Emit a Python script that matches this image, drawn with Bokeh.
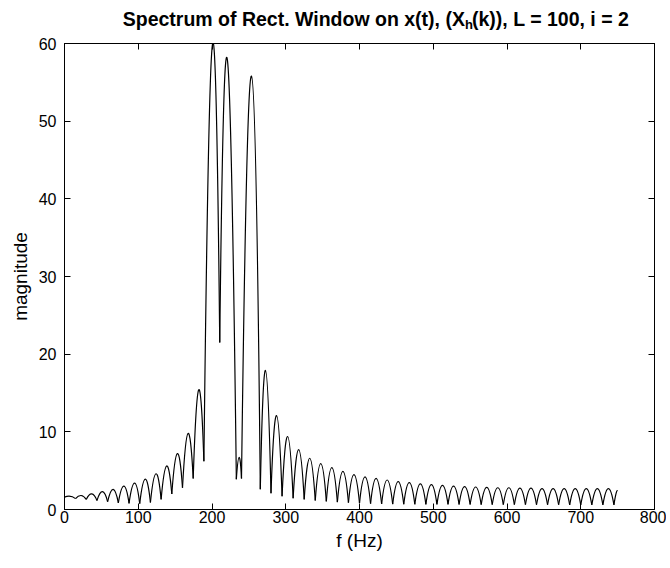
import numpy as np
from bokeh.plotting import figure
from bokeh.layouts import column
from bokeh.models import Range1d, LinearAxis, FixedTicker, CustomLabelingPolicy
from bokeh.core.properties import value
from bokeh.embed import file_html
from bokeh.resources import INLINE

# ---- data ----
# local minima (plus start and end points) of the magnitude curve
node_f = [0, 15, 29.5, 44, 58.5, 73, 87.5, 102, 116.5, 131, 145.5, 160, 174.5, 189,
          210.5, 233, 240, 265.5,
          280, 295, 310, 325, 340, 355, 370, 385, 400, 415, 430, 445, 460, 475, 490,
          505, 520, 535, 550, 565, 580, 595, 610, 625, 640, 655, 670, 685, 700, 715,
          730, 745, 750]
node_m = [1.6, 1.4, 1.3, 1.15, 1.0, 0.85, 0.78, 0.75, 0.9, 1.3, 2.0, 2.8, 4.0, 6.2,
          21.5, 3.9, 4.0, 2.6,
          2.1, 1.7, 1.45, 1.3, 1.15, 1.05, 0.95, 0.88, 0.82, 0.76, 0.72, 0.7, 0.68, 0.67, 0.66,
          0.65, 0.65, 0.64, 0.64, 0.63, 0.63, 0.62, 0.62, 0.62, 0.61, 0.61, 0.61, 0.6, 0.6, 0.6,
          0.6, 0.6, 2.4]
# local maxima (one lobe between each pair of consecutive nodes)
peak_f = [8, 22.5, 37, 51.5, 66, 80.5, 95, 109.5, 124, 138.5, 153, 167.5, 182,
          200.5, 221, 236.8, 253.5, 272.5,
          287.5, 302.5, 317.5, 332.5, 347.5, 362.5, 377.5, 392.5, 407.5, 422.5, 437.5,
          452.5, 467.5, 482.5, 497.5, 512.5, 527.5, 542.5, 557.5, 572.5, 587.5, 602.5,
          617.5, 632.5, 647.5, 662.5, 677.5, 692.5, 707.5, 722.5, 737.5, 748]
peak_m = [1.7, 1.8, 2.0, 2.3, 2.6, 3.0, 3.4, 3.9, 4.6, 5.6, 7.2, 9.8, 15.4,
          59.8, 57.8, 6.7, 55.8, 17.9,
          12.1, 9.4, 7.7, 6.6, 5.9, 5.4, 4.9, 4.5, 4.2, 4.0, 3.8,
          3.6, 3.45, 3.3, 3.2, 3.1, 3.0, 2.95, 2.9, 2.85, 2.8, 2.8,
          2.75, 2.75, 2.7, 2.7, 2.7, 2.7, 2.7, 2.7, 2.7, 2.1]

x_ticks = [0, 100, 200, 300, 400, 500, 600, 700, 800]
y_ticks = [0, 10, 20, 30, 40, 50, 60]

title_main = "Spectrum of Rect. Window on x(t), (X"
title_sub = "h"
title_rest = "(k)), L = 100, i = 2"
x_label = "f (Hz)"
y_label = "magnitude"

FONT = "Liberation Sans"
TOTAL_W = 666
TITLE_H = 36

# ---- title strip (pixel-sized ranges so text sits where the reference has it) ----
pt = figure(width=TOTAL_W, height=TITLE_H, x_range=Range1d(0, TOTAL_W), y_range=Range1d(0, TITLE_H),
            output_backend="svg", toolbar_location=None, x_axis_type=None, y_axis_type=None,
            min_border=0, outline_line_color=None)
pt.grid.visible = False
pt.background_fill_color = "white"
pt.border_fill_color = "white"
xh = 452
base = 18
tstyle = dict(text_font=value(FONT), text_font_style="bold", text_color="black",
              text_baseline="alphabetic")
pt.text(x=[xh], y=[base], text=[title_main], text_align="right", text_font_size="19.5px", **tstyle)
pt.text(x=[xh], y=[base - 6], text=[title_sub], text_align="left", text_font_size="13px", **tstyle)
pt.text(x=[xh + 8], y=[base], text=[title_rest], text_align="left", text_font_size="19.5px", **tstyle)

# ---- main figure ----
p = figure(frame_width=590, frame_height=466, x_range=Range1d(0, 800), y_range=Range1d(0, 60),
           output_backend="svg", toolbar_location=None,
           min_border_left=64, min_border_right=TOTAL_W - 64 - 590, min_border_top=43 - TITLE_H,
           min_border_bottom=56)
p.grid.visible = False
p.outline_line_color = "black"
p.outline_line_width = 1
p.background_fill_color = "white"
p.border_fill_color = "white"

# lobes drawn as quadratic curves from minimum to minimum passing through the maximum
x0 = np.array(node_f[:-1]); x1 = np.array(node_f[1:])
y0 = np.array(node_m[:-1]); y1 = np.array(node_m[1:])
pf = np.array(peak_f); pm = np.array(peak_m)
cx = 2 * pf - (x0 + x1) / 2
cy = 2 * pm - (y0 + y1) / 2
p.quadratic(x0=x0, y0=y0, x1=x1, y1=y1, cx=cx, cy=cy, line_color="black", line_width=1.2)

def style_axis(ax, labels=True):
    ax.axis_line_color = "black"
    ax.major_tick_line_color = "black"
    ax.major_tick_in = 6
    ax.major_tick_out = 0
    ax.minor_tick_in = 0
    ax.minor_tick_out = 0
    ax.major_label_text_font = FONT
    ax.major_label_text_color = "black"
    ax.major_label_text_font_size = "16px"
    if not labels:
        ax.major_label_policy = CustomLabelingPolicy(code="return new Set()")
        ax.major_label_standoff = 0
        ax.major_label_text_font_size = "1px"
        ax.axis_label_standoff = 0

p.xaxis.ticker = FixedTicker(ticks=x_ticks)
p.yaxis.ticker = FixedTicker(ticks=y_ticks)
style_axis(p.xaxis[0]); style_axis(p.yaxis[0])
p.xaxis.major_label_standoff = 1
p.yaxis.major_label_standoff = 8
p.xaxis.axis_label = x_label
p.yaxis.axis_label = y_label
for ax in (p.xaxis[0], p.yaxis[0]):
    ax.axis_label_text_font = FONT
    ax.axis_label_text_font_style = "normal"
    ax.axis_label_text_font_size = "19px"
    ax.axis_label_text_color = "black"
p.xaxis.axis_label_standoff = 4
p.yaxis.axis_label_standoff = 5

top = LinearAxis(ticker=FixedTicker(ticks=x_ticks))
right = LinearAxis(ticker=FixedTicker(ticks=y_ticks))
style_axis(top, labels=False); style_axis(right, labels=False)
p.add_layout(top, "above")
p.add_layout(right, "right")

layout = column(pt, p, spacing=0)
open("out.html", "w").write(file_html(layout, INLINE))
